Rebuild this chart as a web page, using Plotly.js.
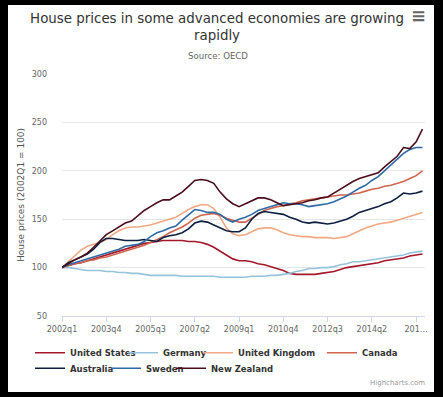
<!DOCTYPE html>
<html>
<head>
<meta charset="utf-8">
<script src="https://cdn.plot.ly/plotly-3.0.1.min.js"></script>
<style>
  html, body { margin: 0; padding: 0; background: #000; width: 443px; height: 397px; overflow: hidden; }
  #chart { position: absolute; left: 8px; top: 5px; width: 426px; height: 387px; background: #fff; }
</style>
</head>
<body>
<div id="chart"></div>
<script>
var quarters = [
  '2002q1','2002q2','2002q3','2002q4','2003q1','2003q2','2003q3','2003q4',
  '2004q1','2004q2','2004q3','2004q4','2005q1','2005q2','2005q3','2005q4',
  '2006q1','2006q2','2006q3','2006q4','2007q1','2007q2','2007q3','2007q4',
  '2008q1','2008q2','2008q3','2008q4','2009q1','2009q2','2009q3','2009q4',
  '2010q1','2010q2','2010q3','2010q4','2011q1','2011q2','2011q3','2011q4',
  '2012q1','2012q2','2012q3','2012q4','2013q1','2013q2','2013q3','2013q4',
  '2014q1','2014q2','2014q3','2014q4','2015q1','2015q2','2015q3','2015q4',
  '2016q1','2016q2'
];

var seriesNames = ['United States','Germany','United Kingdom','Canada','Australia','Sweden','New Zealand'];

var unitedStates = [100,102,104,105,107,109,111,113,115,117,119,121,123,125,126,127,128,128,128,128,
  127,127,126,124,121,117,113,109,107,107,106,104,103,101,99,97,94,93,93,93,
  93,94,95,96,98,100,101,102,103,104,105,107,108,109,110,112,113,114];
var germany = [100,100,99,98,97,97,97,96,96,95,95,94,94,93,92,92,92,92,92,91,
  91,91,91,91,91,90,90,90,90,90,91,91,91,92,92,93,94,96,97,99,
  99,100,100,101,103,104,106,106,107,108,109,110,111,112,113,115,116,117];
var unitedKingdom = [100,106,113,118,122,124,126,129,134,138,141,142,142,143,144,146,148,150,152,156,
  160,163,165,165,161,152,141,135,133,134,137,140,141,141,139,136,134,133,132,132,
  131,131,131,130,131,132,135,138,141,143,145,146,147,149,151,153,155,157];
var canada = [100,102,104,105,107,108,110,111,113,115,117,119,121,123,126,129,132,136,139,142,
  146,151,154,155,156,154,151,149,147,147,151,155,159,161,163,164,166,167,169,170,
  171,172,173,174,175,175,176,177,179,181,182,184,185,187,189,192,195,200];
var australia = [100,105,108,111,114,119,126,130,130,129,128,128,128,129,128,127,131,133,134,136,
  140,146,148,147,144,141,138,137,137,141,150,156,158,157,156,155,152,150,147,146,
  147,146,145,146,148,150,153,157,159,161,163,166,168,172,177,176,177,179];
var sweden = [100,103,105,107,109,111,113,115,117,119,122,123,124,127,132,136,138,141,143,149,
  155,160,159,157,157,155,150,147,150,152,155,159,161,163,165,167,166,166,165,163,
  164,165,166,168,171,174,178,182,185,190,194,200,206,212,218,222,224,224];
var newZealand = [100,104,108,111,115,121,128,134,138,142,146,148,154,159,163,167,170,170,174,178,
  184,190,191,190,187,178,171,166,163,166,169,172,172,170,167,164,165,166,167,169,
  170,172,173,177,181,185,189,192,194,196,198,204,210,215,224,223,230,243];

var xTickVals = ['2002q1','2003q4','2005q3','2007q2','2009q1','2010q4','2012q3','2014q2','2016q1'];
var xTickText = ['2002q1','2003q4','2005q3','2007q2','2009q1','2010q4','2012q3','2014q2','201\u2026'];
var yTickVals = [50,100,150,200,250,300];

var colors = ['#a3182b','#94c3dc','#f2a884','#d0654f','#0c1f3f','#2e6aa3','#4a0d1c'];
var allSeries = [unitedStates, germany, unitedKingdom, canada, australia, sweden, newZealand];
var legendRef = ['legend','legend','legend','legend3','legend2','legend2','legend2'];
var legendWidths = [48, 30, 79, null, 31, 20, null];

var traces = allSeries.map(function (vals, i) {
  var t = {
    type: 'scatter',
    mode: 'lines',
    name: seriesNames[i],
    x: quarters,
    y: vals,
    line: { color: colors[i], width: 1.6 },
    legend: legendRef[i],
    hoverinfo: 'x+y+name'
  };
  if (legendWidths[i] !== null) t.legendwidth = legendWidths[i];
  return t;
});

var legendFont = { family: 'DejaVu Sans', size: 8.5, color: '#333333', weight: 'bold' };
function makeLegend(xPx, yPx) {
  return {
    orientation: 'h',
    xref: 'container', yref: 'container',
    x: xPx / 426, xanchor: 'left',
    y: 1 - yPx / 387, yanchor: 'middle',
    bgcolor: 'rgba(0,0,0,0)',
    borderwidth: 0,
    itemwidth: 30,
    font: legendFont
  };
}

var layout = {
  width: 426,
  height: 387,
  margin: { l: 54, r: 9, t: 69, b: 76 },
  paper_bgcolor: '#ffffff',
  plot_bgcolor: '#ffffff',
  font: { family: 'DejaVu Sans', color: '#666666' },
  title: {
    text: 'House prices in some advanced economies are growing<br>rapidly',
    font: { family: 'DejaVu Sans', size: 13.4, color: '#333333' },
    x: 0.4906, xanchor: 'center', xref: 'container',
    y: 0.954, yanchor: 'top', yref: 'container'
  },
  xaxis: {
    type: 'category',
    range: [0, 57.4],
    tickmode: 'array',
    tickvals: xTickVals,
    ticktext: xTickText,
    tickangle: 0,
    showgrid: false,
    zeroline: false,
    showline: true,
    linecolor: '#ccd6eb',
    linewidth: 1,
    ticks: 'outside',
    ticklen: 5,
    tickcolor: '#ccd6eb',
    tickfont: { family: 'DejaVu Sans', size: 8, color: '#666666' }
  },
  yaxis: {
    range: [50, 300],
    tickmode: 'array',
    tickvals: yTickVals,
    showgrid: true,
    gridcolor: '#e6e6e6',
    gridwidth: 1,
    zeroline: false,
    showline: false,
    ticks: '',
    ticklabelstandoff: 14,
    tickfont: { family: 'DejaVu Sans', size: 8, color: '#666666' },
    title: {
      text: 'House prices (2002Q1 = 100)',
      font: { family: 'DejaVu Sans', size: 9, color: '#555555' },
      standoff: 5
    }
  },
  showlegend: true,
  legend: makeLegend(22, 347.7),
  legend3: makeLegend(314, 347.7),
  legend2: makeLegend(22, 363.3),
  annotations: [
    {
      text: 'Source: OECD',
      xref: 'paper', yref: 'paper',
      x: (210 - 54) / 363, y: (311 - 51) / 242,
      xanchor: 'center', yanchor: 'middle',
      showarrow: false,
      font: { family: 'DejaVu Sans', size: 8.6, color: '#666666' }
    },
    {
      text: '\u2261',
      xref: 'paper', yref: 'paper',
      x: (410 - 54) / 363, y: (311 - 11) / 242,
      xanchor: 'center', yanchor: 'middle',
      showarrow: false,
      font: { family: 'DejaVu Sans', size: 18, color: '#666666', weight: 'bold' }
    },
    {
      text: 'Highcharts.com',
      xref: 'paper', yref: 'paper',
      x: (419 - 54) / 363, y: (311 - 378) / 242,
      xanchor: 'right', yanchor: 'middle',
      showarrow: false,
      font: { family: 'DejaVu Sans', size: 7, color: '#999999' }
    }
  ]
};

Plotly.newPlot('chart', traces, layout, { displayModeBar: false });
</script>
</body>
</html>
